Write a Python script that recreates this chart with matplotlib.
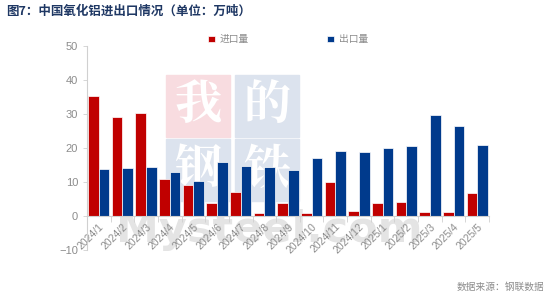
import matplotlib
matplotlib.use('Agg')
import matplotlib.pyplot as plt
from matplotlib.patches import Rectangle
import numpy as np

plt.rcParams['font.family'] = ['Noto Sans CJK SC', 'DejaVu Sans']

months = ['2024/1', '2024/2', '2024/3', '2024/4', '2024/5', '2024/6', '2024/7',
          '2024/8', '2024/9', '2024/10', '2024/11', '2024/12', '2025/1', '2025/2',
          '2025/3', '2025/4', '2025/5']
imports = [35.2, 29.2, 30.4, 10.8, 9.2, 3.9, 7.2, 0.8, 3.7, 0.8, 10.0, 1.5,
           3.7, 4.1, 1.1, 1.1, 6.8]
exports = [13.8, 14.0, 14.5, 13.0, 10.2, 15.9, 14.7, 14.5, 13.6, 17.1, 19.2,
           18.8, 19.9, 20.7, 29.8, 26.4, 21.0]

red = '#C00000'
blue = '#003A8C'
grey = '#8C8C8C'

fig = plt.figure(figsize=(5.5, 2.97), dpi=100)

# 水印
wm = [(166, 75, '#F8DCE0', '我'), (235, 75, '#DCE3EE', '的'),
      (166, 139, '#DCE3EE', '钢'), (235, 139, '#DCE3EE', '铁')]
for px, py, c, ch in wm:
    fig.patches.append(Rectangle((px / 550, 1 - (py + 62) / 297), 64 / 550, 62 / 297,
                                 transform=fig.transFigure, color=c, zorder=0))
    fig.text((px + 32) / 550, 1 - (py + 31) / 297, ch, color='white', fontsize=34,
             fontweight='bold', ha='center', va='center', zorder=0,
             family=['Noto Serif CJK SC', 'Noto Sans CJK SC'])
fig.text(0.49, 1 - 230 / 297, 'Mysteel.com', color='#E4E4E4', fontsize=31,
         fontweight='bold', ha='center', va='center', zorder=0, family='DejaVu Sans')

ax = fig.add_axes([87 / 550, 1 - 250 / 297, 402 / 550, 204 / 297])
ax.set_zorder(2)
ax.patch.set_alpha(0)

x = np.arange(len(months))
w = 0.45
ax.bar(x - w / 2, imports, w, color=red, edgecolor='white', linewidth=0.5, label='进口量')
ax.bar(x + w / 2, exports, w, color=blue, edgecolor='white', linewidth=0.5, label='出口量')

ax.set_xlim(-0.5, len(months) - 0.5)
ax.set_ylim(-10, 50)
ax.set_yticks(range(-10, 51, 10))
ax.tick_params(axis='y', colors='#D0D0D0', labelcolor=grey, labelsize=8, length=3, width=0.6)

ax.spines['top'].set_visible(False)
ax.spines['right'].set_visible(False)
ax.spines['left'].set_color('#D0D0D0')
ax.spines['bottom'].set_color('#D0D0D0')
ax.spines['bottom'].set_position(('data', 0))

ax.set_xticks(x)
ax.set_xticklabels(months, rotation=45, ha='right', rotation_mode='anchor',
                   fontsize=7.5, color=grey, family='Liberation Sans')
ax.set_xticks(np.arange(-0.5, len(months), 1), minor=True)
ax.tick_params(axis='x', which='major', length=0, pad=4)
ax.tick_params(axis='x', which='minor', length=4, color='#D0D0D0', width=0.6)
for lab in ax.get_yticklabels():
    lab.set_family('Liberation Sans')

ax.legend(loc='upper center', bbox_to_anchor=(0.5, 1.1), ncol=2, frameon=False,
          fontsize=7, labelcolor=grey, handlelength=0.7, handleheight=0.7,
          columnspacing=8, handletextpad=0.5)

fig.text(0.012, 1 - 11 / 297, '图7：中国氧化铝进出口情况（单位：万吨）', color='#1F3864',
         fontsize=9, fontweight='bold', va='center', ha='left')
fig.text(0.99, 1 - 287 / 297, '数据来源：钢联数据', color=grey, fontsize=7,
         va='center', ha='right')

fig.savefig('out.png', dpi=100)
